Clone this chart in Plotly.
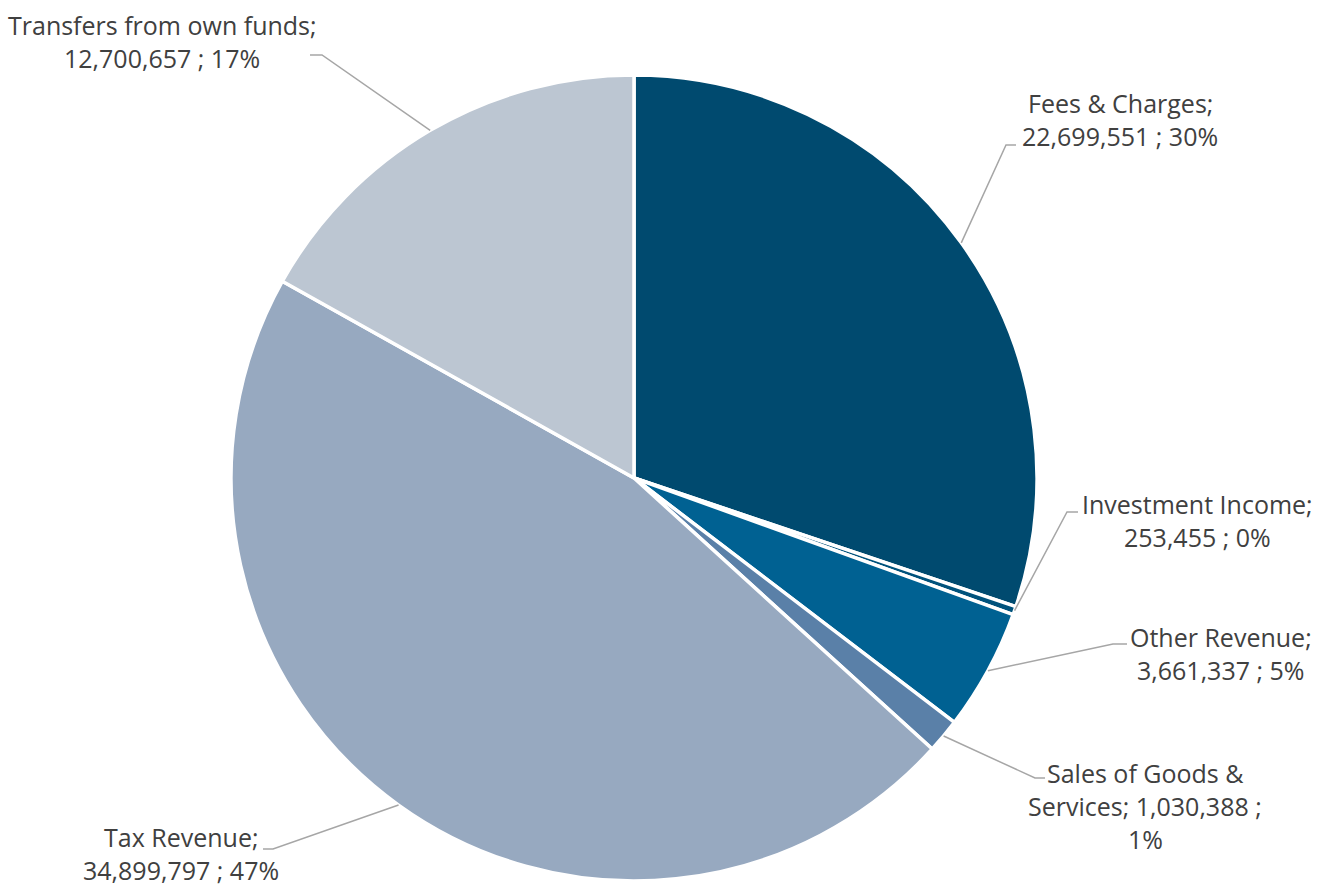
import math
import plotly.graph_objects as go

# Revenue composition
categories = ["Fees & Charges", "Investment Income", "Other Revenue",
              "Sales of Goods & Services", "Tax Revenue", "Transfers from own funds"]
values = [22699551, 253455, 3661337, 1030388, 34899797, 12700657]
percent_labels = ["30%", "0%", "5%", "1%", "47%", "17%"]
colors = ["#004a6f", "#00527c", "#006192", "#5a80a8", "#97a9c0", "#bcc6d2"]

# Label text, line-broken like the category boxes
label_lines = [
    ["Fees & Charges;", "{v} ; {p}"],
    ["Investment Income;", "{v} ; {p}"],
    ["Other Revenue;", "{v} ; {p}"],
    ["Sales of Goods &", "Services; {v} ;", "{p}"],
    ["Tax Revenue;", "{v} ; {p}"],
    ["Transfers from own funds;", "{v} ; {p}"],
]

W, H = 1329, 886
CX, CY, R = 634, 478, 403  # pie centre / radius in pixels

# Label block: centre x and first-line y (pixels); leader elbow + hook end
label_pos = [(1120, 103), (1197, 504), (1221, 637), (1145, 773), (181, 837), (162, 25)]
LINE_GAP = 33
elbows = [((1006, 145), (1016, 145)),
          ((1067, 512), (1078, 512)),
          ((1113, 644), (1127, 644)),
          ((1035, 778), (1045, 778)),
          ((273, 849), (263, 849)),
          ((322, 55), (310, 55))]

FONT = "Open Sans, sans-serif"
FONT_SIZE = 25
TEXT_COLOR = "#404040"

total = sum(values)

fig = go.Figure(go.Pie(
    labels=categories,
    values=values,
    sort=False,
    direction="clockwise",
    rotation=0,
    marker=dict(colors=colors, line=dict(color="white", width=3.5)),
    textinfo="none",
    hoverinfo="label+value+percent",
    showlegend=False,
    domain=dict(x=[(CX - R) / W, (CX + R) / W],
                y=[1 - (CY + R) / H, 1 - (CY - R) / H]),
))


def px(x):
    return x / W


def py(y):
    return 1 - y / H


shapes = []
annotations = []
cum = 0.0
for i, v in enumerate(values):
    frac = v / total
    mid = (cum + frac / 2) * 2 * math.pi
    cum += frac
    # point on the rim at the slice's mid-angle (clockwise from 12 o'clock)
    sx = CX + R * math.sin(mid)
    sy = CY - R * math.cos(mid)
    (ex, ey), (hx, hy) = elbows[i]
    path = f"M {px(sx)},{py(sy)} L {px(ex)},{py(ey)} L {px(hx)},{py(hy)}"
    shapes.append(dict(type="path", xref="paper", yref="paper", path=path,
                       line=dict(color="#a6a6a6", width=1.5)))

    vtxt = f"{v:,}"
    lx, ly = label_pos[i]
    for k, line in enumerate(label_lines[i]):
        annotations.append(dict(
            x=px(lx), y=py(ly + k * LINE_GAP), xref="paper", yref="paper",
            text=line.format(v=vtxt, p=percent_labels[i]),
            showarrow=False, xanchor="center", yanchor="middle",
            borderpad=0,
            font=dict(family=FONT, size=FONT_SIZE, color=TEXT_COLOR)))

fig.update_layout(
    width=W, height=H,
    margin=dict(l=0, r=0, t=0, b=0),
    paper_bgcolor="white",
    plot_bgcolor="white",
    shapes=shapes,
    annotations=annotations,
)

fig.write_html("out.html")
